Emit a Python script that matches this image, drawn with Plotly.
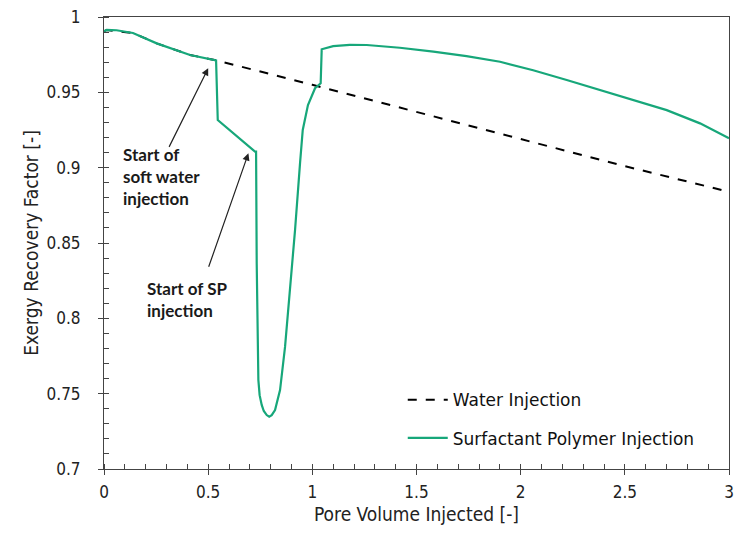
import plotly.graph_objects as go

# Water injection (dashed)
water_x = [0.0, 0.013, 0.139, 0.253, 0.413, 0.54, 1.0, 1.5, 2.0, 2.5, 3.0]
water_y = [0.9905, 0.9914, 0.9894, 0.9825, 0.9748, 0.9712, 0.955, 0.937, 0.919, 0.901, 0.884]

# Surfactant polymer injection
sp_x = [0.0, 0.013, 0.06, 0.139, 0.253, 0.413, 0.538, 0.546, 0.725, 0.730,
        0.733, 0.736, 0.741, 0.747, 0.757, 0.767, 0.781, 0.793, 0.805, 0.821,
        0.845, 0.869, 0.893, 0.917, 0.941, 0.954, 0.979, 1.013, 1.040, 1.045,
        1.10, 1.18, 1.261, 1.42, 1.581, 1.74, 1.901, 2.06, 2.221, 2.38,
        2.541, 2.701, 2.861, 3.0]
sp_y = [0.9905, 0.9914, 0.9912, 0.9894, 0.9825, 0.9748, 0.9712, 0.9316, 0.9106, 0.9106,
        0.8365, 0.7922, 0.759, 0.749, 0.7425, 0.7385, 0.7358, 0.7347, 0.7357, 0.7391,
        0.7524, 0.781, 0.8187, 0.8586, 0.903, 0.925, 0.9416, 0.9527, 0.956, 0.9786,
        0.9807, 0.9815, 0.9814, 0.9796, 0.977, 0.974, 0.9703, 0.9647, 0.9582, 0.9517,
        0.9449, 0.9382, 0.9294, 0.9195]

FONT = "DejaVu Sans Condensed"
NOTE_FONT = "Lato"
LEG_FONT = "DejaVu Sans"

fig = go.Figure()
fig.add_trace(go.Scatter(x=water_x, y=water_y, mode="lines", name="Water Injection",
                         legendgroup="w",
                         line=dict(color="black", width=2, dash="dash")))
fig.add_trace(go.Scatter(x=sp_x, y=sp_y, mode="lines", name="Surfactant Polymer Injection",
                         legendgroup="sp",
                         line=dict(color="#17a77a", width=2.2)))

fig.add_annotation(x=0.5, y=0.966, ax=0.309, ay=0.9128, xref="x", yref="y", axref="x", ayref="y",
                   text="", showarrow=True, arrowhead=2, arrowsize=1.2, arrowwidth=1.2, arrowcolor="#222")
fig.add_annotation(x=0.693, y=0.9095, ax=0.5, ay=0.8332, xref="x", yref="y", axref="x", ayref="y",
                   text="", showarrow=True, arrowhead=2, arrowsize=1.2, arrowwidth=1.2, arrowcolor="#222")
fig.add_annotation(x=0.083, y=0.917, xref="x", yref="y", xanchor="left", yanchor="top",
                   text="<b>Start of<br>soft water<br>injection</b>", showarrow=False, align="left",
                   font=dict(family=NOTE_FONT, size=17, color="#1a1a1a"))
fig.add_annotation(x=0.195, y=0.828, xref="x", yref="y", xanchor="left", yanchor="top",
                   text="<b>Start of SP<br>injection</b>", showarrow=False, align="left",
                   font=dict(family=NOTE_FONT, size=17, color="#1a1a1a"))

axis_common = dict(showline=True, linecolor="#444", linewidth=1, mirror=True,
                   showgrid=False, zeroline=False, ticks="outside", ticklen=5,
                   tickcolor="#444", automargin=False, ticklabeloverflow="allow",
                   tickfont=dict(family=FONT, size=17, color="#222"))

fig.update_xaxes(range=[0, 3], tickvals=[0, 0.5, 1, 1.5, 2, 2.5, 3],
                 ticktext=["0", "0.5", "1", "1.5", "2", "2.5", "3"],
                 minor=dict(dtick=0.1, ticks="inside", ticklen=5, tickcolor="#444"),
                 ticklabelstandoff=3,
                 title=dict(text="Pore Volume Injected [-]", font=dict(family=FONT, size=19, color="#222"),
                            standoff=6),
                 **axis_common)
fig.update_yaxes(range=[0.7, 1.0], tickvals=[0.7, 0.75, 0.8, 0.85, 0.9, 0.95, 1.0],
                 ticktext=["0.7", "0.75", "0.8", "0.85", "0.9", "0.95", "1"],
                 minor=dict(dtick=0.01, ticks="inside", ticklen=5, tickcolor="#444"),
                 ticklabelstandoff=14,
                 title=dict(text="Exergy Recovery Factor [-]", font=dict(family=FONT, size=19, color="#222"),
                            standoff=2),
                 **axis_common)

fig.update_layout(width=737, height=540, margin=dict(l=104, r=8, t=17, b=71),
                  paper_bgcolor="white", plot_bgcolor="white",
                  legend=dict(x=0.478, y=0.192, xanchor="left", yanchor="top",
                              bgcolor="rgba(0,0,0,0)", tracegroupgap=13,
                              font=dict(family=LEG_FONT, size=17, color="#111"), itemwidth=40),
                  showlegend=True)

fig.write_html("out.html", config={"displayModeBar": False},
               post_script="document.body.style.margin='0';document.body.style.overflow='hidden';")
